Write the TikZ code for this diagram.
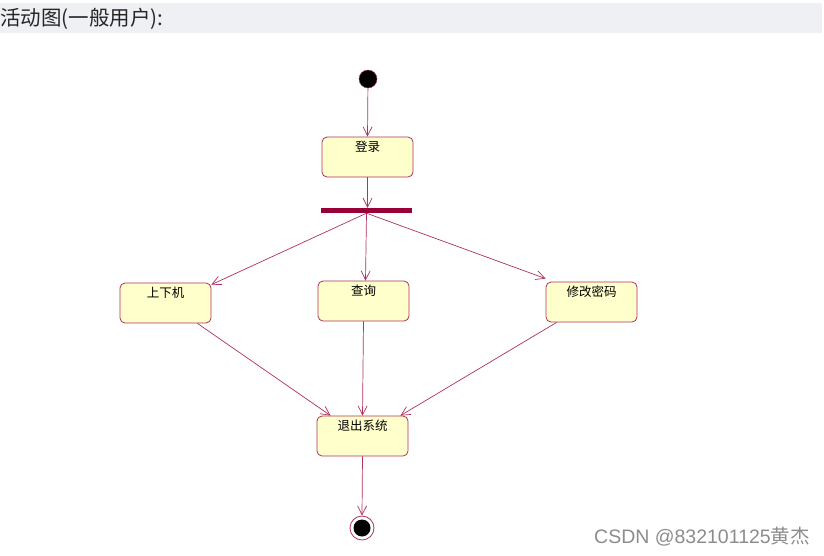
\documentclass[tikz,border=0pt]{standalone}
\usepackage{fontspec}
\newfontfamily\cjk{Noto Sans CJK SC}
\newfontfamily\wmfont{Liberation Sans}
\usetikzlibrary{arrows.meta}
\definecolor{linec}{HTML}{B0305E}
\definecolor{barc}{HTML}{99003A}
\definecolor{actfill}{HTML}{FFFFCC}
\definecolor{headbg}{HTML}{EFF0F4}
\tikzset{
  act/.style={draw=linec, fill=actfill, rounded corners=5pt, line width=0.8pt,
    minimum width=91, minimum height=40, inner sep=0pt},
  actlabel/.style={font=\cjk\fontsize{12.5}{12.5}\selectfont, anchor=north, inner sep=4pt},
  flow/.style={draw=linec, line width=0.7pt, -{Straight Barb[length=9pt,width=9pt]}}
}
\begin{document}
\begin{tikzpicture}[x=1pt, y=-1pt]
  \useasboundingbox (0,0) rectangle (824,555);
  % header
  \fill[headbg] (0,3) rectangle (822,33);
  \node[anchor=west, inner sep=0pt, font=\cjk\fontsize{20.5}{20.5}\selectfont, text=black!85] (title) at (0,19) {活动图(一般用户):};
  % start / end
  \node[circle, fill=black, draw=linec, minimum size=18, inner sep=0pt] (start) at (368,79) {};
  \node[circle, draw=linec, line width=0.8pt, fill=white, minimum size=24, inner sep=0pt] (stop) at (362,528) {};
  \node[circle, fill=black, minimum size=17, inner sep=0pt] (stopdot) at (stop.center) {};
  % activities
  \node[act, label={[actlabel]north:登录}] (login) at (367.5,157) {};
  \node[fill=barc, minimum width=91, minimum height=5, inner sep=0pt] (fork) at (366.5,210.5) {};
  \node[act, label={[actlabel]north:上下机}] (onoff) at (165.5,303) {};
  \node[act, label={[actlabel]north:查询}] (query) at (363.5,301) {};
  \node[act, label={[actlabel]north:修改密码}] (passwd) at (591.5,302) {};
  \node[act, label={[actlabel]north:退出系统}] (quit) at (362.5,436) {};
  % flows
  \draw[flow] (start) -- (login.north);
  \draw[flow] (login.south) -- (fork.north -| login.south);
  \draw[flow] (fork.south) -- ([yshift=-2]onoff.north east);
  \draw[flow] (fork.south) -- ([xshift=2]query.north);
  \draw[flow] (fork.south) -- ([yshift=3]passwd.north west);
  \draw[flow] ([xshift=-14]onoff.south east) -- ([xshift=14]quit.north west);
  \draw[flow] (query.south) -- (quit.north);
  \draw[flow] ([xshift=11]passwd.south west) -- ([xshift=-8]quit.north east);
  \draw[flow] (quit.south) -- (stop.north);
  % watermark
  \node[anchor=east, inner sep=0pt, text=black!45, font=\fontsize{19.5}{19.5}\selectfont] (mark) at (810,537) {\wmfont CSDN @832101125\cjk 黄杰};
\end{tikzpicture}
\end{document}
